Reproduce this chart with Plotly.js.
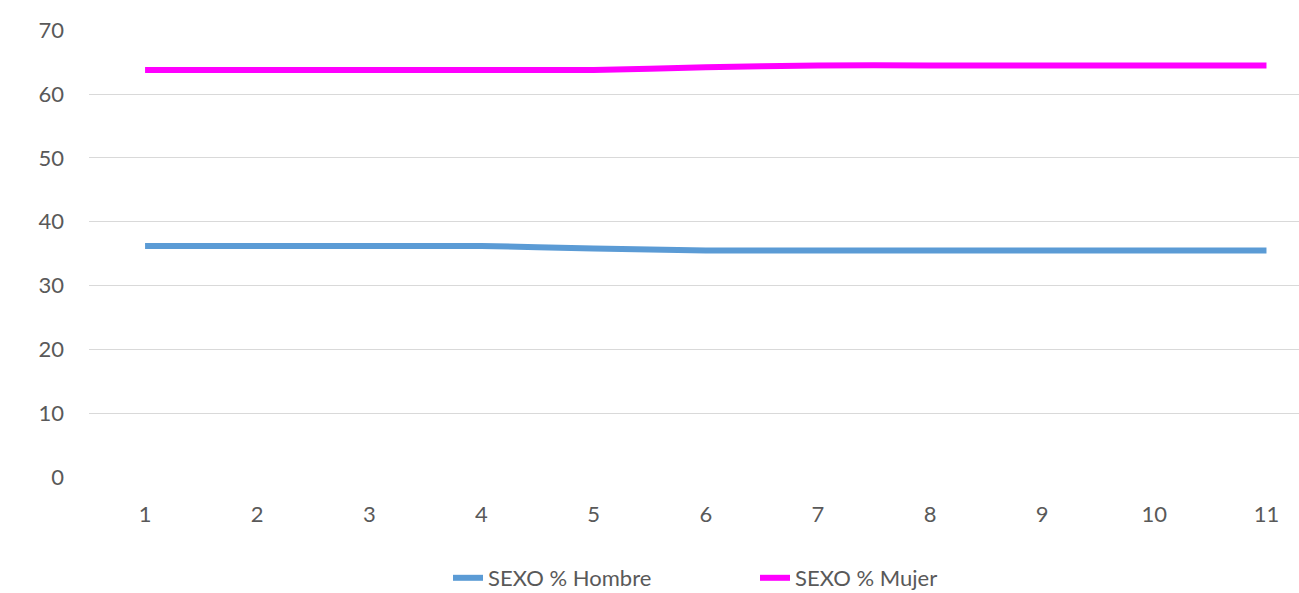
<!DOCTYPE html>
<html>
<head>
<meta charset="utf-8">
<script src="https://cdn.plot.ly/plotly-3.0.1.min.js"></script>
<style>html,body{margin:0;padding:0;background:#fff;}#chart{width:1299px;height:593px;}</style>
</head>
<body>
<div id="chart"></div>
<script>
const categories = [1, 2, 3, 4, 5, 6, 7, 8, 9, 10, 11];
const hombre = [36.2, 36.2, 36.2, 36.2, 35.8, 35.5, 35.5, 35.5, 35.5, 35.5, 35.5];
const mujer = [63.8, 63.8, 63.8, 63.8, 63.8, 64.2, 64.5, 64.5, 64.5, 64.5, 64.5];
const seriesNames = ["SEXO % Hombre", "SEXO % Mujer"];
const yTicks = [0, 10, 20, 30, 40, 50, 60, 70];

const font = {family: "Lato, 'Open Sans', sans-serif", size: 22, color: "#595959"};

const traces = [
  {x: categories, y: hombre, name: seriesNames[0], type: "scatter", mode: "lines",
   line: {color: "#5B9BD5", width: 6, shape: "spline", smoothing: 0.5}},
  {x: categories, y: mujer, name: seriesNames[1], type: "scatter", mode: "lines",
   line: {color: "#FF00FF", width: 6, shape: "spline", smoothing: 0.5}}
];

const layout = {
  width: 1299, height: 593,
  margin: {l: 89, r: 0, t: 30, b: 116},
  paper_bgcolor: "#fff", plot_bgcolor: "#fff",
  font: font,
  showlegend: true,
  legend: {orientation: "h", xref: "container", x: 448 / 1299, xanchor: "left",
           yref: "container", y: 15 / 593, yanchor: "middle",
           font: font, entrywidth: 262, entrywidthmode: "pixels"},
  xaxis: {range: [0.5, 11.29], tickmode: "array", tickvals: categories,
          ticktext: categories.map(String), showgrid: false, zeroline: false,
          showline: false, ticks: "", ticklabelstandoff: 22, tickfont: font, fixedrange: true,
          automargin: false},
  yaxis: {range: [0, 70.05], tickmode: "array", tickvals: yTicks, ticktext: yTicks.map(String),
          showgrid: true, gridcolor: "#D9D9D9", gridwidth: 1, zeroline: false, showline: false,
          ticks: "", ticklabelstandoff: 24, tickfont: font, fixedrange: true, automargin: false}
};

Plotly.newPlot("chart", traces, layout, {displayModeBar: false, staticPlot: true});
</script>
</body>
</html>
